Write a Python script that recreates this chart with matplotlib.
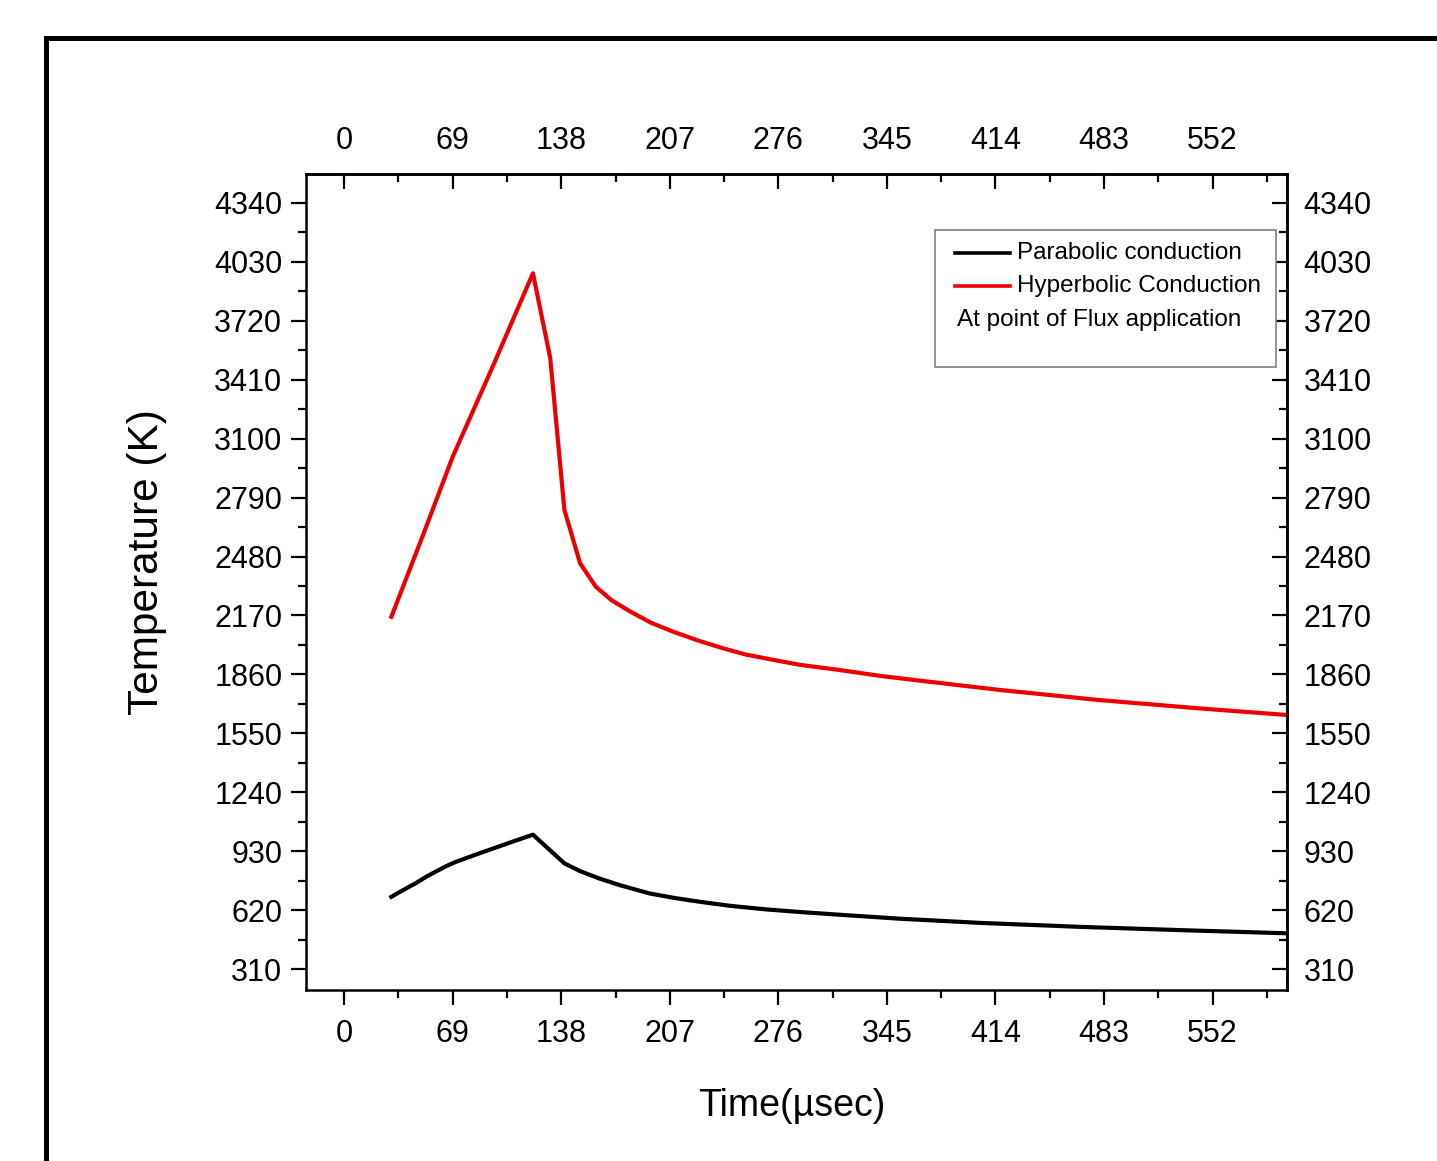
"""
plot.py

Temperature at the point of flux application: parabolic vs hyperbolic conduction.
"""

import matplotlib
matplotlib.use("Agg")
import matplotlib.pyplot as plt
from matplotlib.lines import Line2D
from matplotlib.patches import Rectangle
from matplotlib.ticker import MultipleLocator

# ============================================================
# Data
# ============================================================
hyper_time = [30, 50, 69, 95, 120, 131, 140, 150, 160, 170, 182, 195, 209,
              225, 241, 255, 273, 290, 315, 340, 366, 417, 480, 544, 600]
hyper_temp = [2163, 2590, 3005, 3490, 3970, 3523, 2725, 2444, 2321, 2250,
              2190, 2132, 2085, 2038, 1997, 1965, 1936, 1910, 1883, 1853,
              1827, 1778, 1725, 1681, 1646]

para_time = [30, 38, 46, 52, 59, 65, 71, 86, 107, 120, 140, 150, 162, 175,
             194, 210, 226, 245, 268, 290, 311, 353, 404, 468, 531, 600]
para_temp = [690, 728, 764, 795, 826, 852, 874, 919, 980, 1017, 866, 825,
             787, 752, 708, 684, 664, 643, 624, 610, 598, 575, 553, 532, 515,
             498]

x_ticks = [0, 69, 138, 207, 276, 345, 414, 483, 552]
y_ticks = [310, 620, 930, 1240, 1550, 1860, 2170, 2480, 2790, 3100, 3410,
           3720, 4030, 4340]

legend_labels = ["Parabolic conduction", "Hyperbolic Conduction"]
legend_note = "At point of Flux application"

plt.rcParams["font.family"] = ["Liberation Sans", "DejaVu Sans"]

TICK_FS = 22
LW_SPINE = 1.8
RED = "#ee0000"


def style_axis(axis_obj, direction, pad):
    axis_obj.tick_params(which="major", direction=direction, length=11,
                         width=1.6, labelsize=TICK_FS, pad=pad)
    axis_obj.tick_params(which="minor", direction=direction, length=6,
                         width=1.6)


def main():
    fig = plt.figure(figsize=(14.37, 11.61), dpi=100)
    ax = fig.add_axes([0.2129, 0.1473, 0.6827, 0.7028])

    # curves
    ax.plot(para_time, para_temp, color="black", lw=3.0)
    ax.plot(hyper_time, hyper_temp, color=RED, lw=3.0)

    ax.set_xlim(-24.3, 599.3)
    ax.set_ylim(200, 4492)

    # bottom / left: ticks outward
    ax.set_xticks(x_ticks)
    ax.set_yticks(y_ticks)
    ax.xaxis.set_minor_locator(MultipleLocator(34.5))
    ax.yaxis.set_minor_locator(MultipleLocator(155))
    ax.tick_params(top=False, right=False, which="both")
    style_axis(ax, "out", 4)
    ax.tick_params(axis="x", which="major", pad=10)
    ax.tick_params(axis="y", which="major", pad=6)
    for sp in ax.spines.values():
        sp.set_linewidth(LW_SPINE)

    # top / right: ticks inward, labelled too
    sec_x = ax.secondary_xaxis("top")
    sec_x.set_xticks(x_ticks)
    sec_x.xaxis.set_minor_locator(MultipleLocator(34.5))
    style_axis(sec_x, "in", 13)
    sec_x.spines["top"].set_linewidth(LW_SPINE)

    sec_y = ax.secondary_yaxis("right")
    sec_y.set_yticks(y_ticks)
    sec_y.yaxis.set_minor_locator(MultipleLocator(155))
    style_axis(sec_y, "in", 12)
    sec_y.spines["right"].set_linewidth(LW_SPINE)

    ax.set_xlabel("Time(\u00b5sec)", fontsize=27)
    ax.set_ylabel("Temperature (K)", fontsize=30.5)
    ax.xaxis.set_label_coords(0.4954, -0.120)
    ax.yaxis.set_label_coords(-0.142, 0.525)

    # legend drawn by hand (third line is a plain note with no handle)
    tr = ax.transAxes
    ax.add_patch(Rectangle((0.6412, 0.7635), 0.3476, 0.1679, transform=tr,
                           facecolor="white", edgecolor="#8a8a8a", lw=1.3,
                           zorder=5))
    rows_y = [0.9032, 0.8627, 0.8211]
    for label, color, yy in zip(legend_labels, ["black", RED], rows_y):
        ax.add_line(Line2D([0.6616, 0.7176], [yy, yy], transform=tr,
                           color=color, lw=2.6, zorder=6))
        ax.text(0.7248, yy, label, transform=tr, fontsize=17.5,
                va="center", ha="left", zorder=6)
    ax.text(0.6636, rows_y[2], legend_note, transform=tr, fontsize=17.5,
            va="center", ha="left", zorder=6)

    # outer black frame of the picture (runs off right and bottom)
    fig.patches.append(Rectangle((45.5 / 1437, -0.1), 1.2, 0.96684 + 0.1,
                                 transform=fig.transFigure, fill=False,
                                 edgecolor="black", lw=3.6))

    fig.savefig("out.png", dpi=100)
    plt.close(fig)


if __name__ == "__main__":
    main()
